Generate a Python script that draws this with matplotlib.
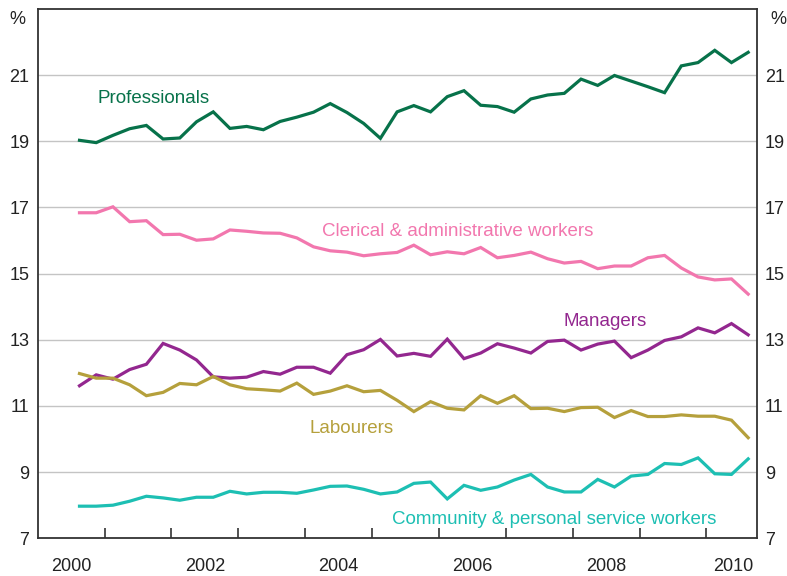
import matplotlib
matplotlib.use("Agg")
import matplotlib.pyplot as plt
import numpy as np

plt.rcParams['font.family'] = ['Liberation Sans', 'DejaVu Sans']

# Quarterly observations, Aug 2000 to Aug 2010
start_year = 2000.625
n_points = 41
dates = start_year + 0.25 * np.arange(n_points)

professionals = [19.03, 18.96, 19.18, 19.38, 19.48, 19.07, 19.10, 19.59, 19.89, 19.39,
                 19.45, 19.35, 19.60, 19.73, 19.88, 20.14, 19.87, 19.54, 19.09, 19.89,
                 20.08, 19.89, 20.35, 20.53, 20.09, 20.05, 19.88, 20.28, 20.40, 20.45,
                 20.88, 20.69, 20.99, 20.82, 20.65, 20.47, 21.28, 21.38, 21.75, 21.38,
                 21.69]
clerical = [16.84, 16.84, 17.02, 16.57, 16.60, 16.18, 16.19, 16.01, 16.05, 16.32,
            16.28, 16.23, 16.22, 16.08, 15.81, 15.69, 15.65, 15.54, 15.60, 15.64,
            15.86, 15.57, 15.66, 15.60, 15.79, 15.48, 15.55, 15.65, 15.45, 15.32,
            15.37, 15.15, 15.23, 15.23, 15.48, 15.55, 15.17, 14.90, 14.81, 14.84,
            14.38]
managers = [11.61, 11.94, 11.81, 12.10, 12.26, 12.89, 12.69, 12.39, 11.88, 11.84,
            11.87, 12.04, 11.96, 12.17, 12.17, 11.99, 12.55, 12.70, 13.01, 12.51,
            12.59, 12.50, 13.02, 12.43, 12.60, 12.88, 12.75, 12.60, 12.95, 12.99,
            12.69, 12.87, 12.96, 12.46, 12.69, 12.98, 13.09, 13.36, 13.21, 13.49,
            13.15]
labourers = [11.98, 11.84, 11.84, 11.64, 11.31, 11.41, 11.68, 11.64, 11.89, 11.64,
             11.52, 11.49, 11.45, 11.69, 11.35, 11.45, 11.61, 11.43, 11.47, 11.17,
             10.83, 11.13, 10.93, 10.88, 11.31, 11.08, 11.31, 10.92, 10.93, 10.83,
             10.95, 10.96, 10.65, 10.86, 10.68, 10.68, 10.73, 10.69, 10.69, 10.57,
             10.04]
community = [7.97, 7.97, 8.00, 8.12, 8.27, 8.22, 8.15, 8.24, 8.24, 8.42,
             8.34, 8.39, 8.39, 8.36, 8.46, 8.57, 8.58, 8.48, 8.34, 8.40,
             8.66, 8.70, 8.19, 8.60, 8.45, 8.55, 8.76, 8.93, 8.55, 8.40,
             8.40, 8.78, 8.55, 8.88, 8.93, 9.26, 9.23, 9.43, 8.95, 8.93,
             9.40]

series_names = ["Professionals", "Clerical & administrative workers", "Managers",
                "Labourers", "Community & personal service workers"]
series_values = [professionals, clerical, managers, labourers, community]
colors = ["#07724A", "#F277AE", "#93278F", "#B5A03C", "#1DBFB3"]
label_pos = [(2000.90, 20.15), (2004.25, 16.15), (2007.865, 13.42),
             (2004.06, 10.19), (2005.30, 7.43)]

y_ticks = [7, 9, 11, 13, 15, 17, 19, 21]
year_ticks = list(range(2001, 2011))
year_label_pos = [2000.5, 2002.5, 2004.5, 2006.5, 2008.5, 2010.4]
year_labels = ["2000", "2002", "2004", "2006", "2008", "2010"]

fig = plt.figure(figsize=(7.87, 5.76), dpi=100)
ax = fig.add_axes([0.0479, 0.0655, 0.9134, 0.9189])

ax.set_xlim(2000, 2010.75)
ax.set_ylim(7, 23)

for yv in y_ticks[1:]:
    ax.axhline(yv, color="#C4C4C4", lw=1.0, zorder=1)

for name, vals, c, (tx, ty) in zip(series_names, series_values, colors, label_pos):
    ax.plot(dates, vals, color=c, lw=2.3, zorder=3, solid_joinstyle='miter')
    ax.text(tx, ty, name, color=c, fontsize=13.5, ha='left', va='baseline', zorder=4)

for sp in ax.spines.values():
    sp.set_color("#333333")
    sp.set_linewidth(1.3)

ax.set_yticks(y_ticks)
ax.tick_params(axis='y', which='both', length=0, labelsize=13, colors="#222222",
               labelleft=True, labelright=True, left=False, right=False)
ax.tick_params(axis='y', pad=6)

ax.set_xticks(year_ticks)
ax.set_xticklabels([])
ax.tick_params(axis='x', which='major', direction='in', length=7.5, width=1.2,
               color="#333333")
ax.set_xticks(year_label_pos, minor=True)
ax.set_xticklabels(year_labels, minor=True)
ax.tick_params(axis='x', which='minor', length=0, pad=14, labelsize=13,
               colors="#222222")

fig.text(17 / 787, 1 - 20 / 576, "%", fontsize=13, ha='center', va='center', color="#222222")
fig.text(778 / 787, 1 - 20 / 576, "%", fontsize=13, ha='center', va='center', color="#222222")

fig.savefig("out.png", dpi=100)
